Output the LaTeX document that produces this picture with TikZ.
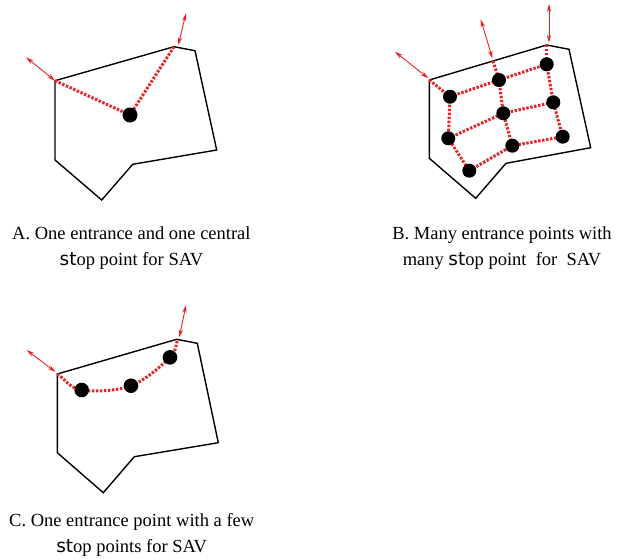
\documentclass[tikz,border=0pt]{standalone}
\usepackage{fontspec}
\setmainfont{Liberation Serif}
\newfontfamily\stfont{DejaVu Sans}
\usetikzlibrary{arrows.meta}
\definecolor{sred}{RGB}{232,35,40}
\newcommand{\stw}{{\stfont st}}
\tikzset{
  region/.style={draw=black, line width=1.4pt, line join=miter},
  stopline/.style={draw=sred, line width=3pt, dash pattern=on 2.4pt off 1.6pt},
  entryarrow/.style={draw=sred, line width=0.9pt, {Stealth[length=8pt,width=4.4pt]}-{Stealth[length=8pt,width=4.4pt]}},
  stopdot/.style={circle, fill=black, inner sep=0pt, minimum size=14.6pt},
  caption/.style={anchor=base, inner sep=0pt, font=\fontsize{18.5pt}{26pt}\selectfont}
}
\begin{document}
\begin{tikzpicture}[x=1pt,y=-1pt]
\useasboundingbox (0,0) rectangle (622,558);

% ---------------- Panel A ----------------
\coordinate (a1) at (55,80.7);
\coordinate (a2) at (174,46.7);
\coordinate (a3) at (195,50.7);
\coordinate (a4) at (216.7,150);
\coordinate (a5) at (132.7,164.3);
\coordinate (a6) at (101.7,200);
\coordinate (a7) at (55,160);
\draw[region] (a1) -- (a2) -- (a3) -- (a4) -- (a5) -- (a6) -- (a7) -- cycle;
\coordinate (ae1) at (26,57.3);
\coordinate (ae2) at (186,13.3);
\coordinate (ap) at (130,115);
\draw[entryarrow] (ae1) -- (a1);
\draw[entryarrow] (ae2) -- (178.3,45);
\draw[stopline] (a1) -- (ap);
\draw[stopline] (a2) -- (ap);
\node[stopdot, minimum size=15pt] (ad) at (ap) {};
\node[caption] (acap1) at (131.4,239) {A. One entrance and one central};
\node[caption] (acap2) at (131.4,265) {\stw op point for SAV};

% ---------------- Panel B ----------------
\coordinate (b1) at (429.3,80);
\coordinate (b2) at (546.7,45);
\coordinate (b3) at (569,49.3);
\coordinate (b4) at (590.7,147.7);
\coordinate (b5) at (506,163.3);
\coordinate (b6) at (475.7,198.3);
\coordinate (b7) at (429.3,158.3);
\draw[region] (b1) -- (b2) -- (b3) -- (b4) -- (b5) -- (b6) -- (b7) -- cycle;
\coordinate (be) at (493,61);
\coordinate (bo1) at (395,51.7);
\coordinate (bo2) at (480.7,19.3);
\coordinate (bo3) at (549,4);
\draw[entryarrow] (bo1) -- (428.3,78.3);
\draw[entryarrow] (bo2) -- (492.5,58.5);
\draw[entryarrow] (bo3) -- (549,42.7);
\coordinate (p11) at (450,96.7);
\coordinate (p12) at (499,80);
\coordinate (p13) at (546.7,64.3);
\coordinate (p21) at (448.3,138.3);
\coordinate (p22) at (503.3,113.3);
\coordinate (p23) at (553.3,102.3);
\coordinate (p31) at (469.3,170.7);
\coordinate (p32) at (512.3,145.7);
\coordinate (p33) at (562.7,136.7);
\draw[stopline] (b1) -- (p11);
\draw[stopline] (be) -- (p12);
\draw[stopline] (b2) -- (p13);
\draw[stopline] (p11) -- (p12) -- (p13);
\draw[stopline] (p21) -- (p22) -- (p23);
\draw[stopline] (p31) -- (p32) -- (p33);
\draw[stopline] (p11) -- (p21) -- (p31);
\draw[stopline] (p12) -- (p22) -- (p32);
\draw[stopline] (p13) -- (p23) -- (p33);
\foreach \p in {11,12,13,21,22,23,31,32,33}
  \node[stopdot, minimum size=14pt] (bd\p) at (p\p) {};
\node[caption] (bcap1) at (502,239) {B. Many entrance points with};
\node[caption] (bcap2) at (502,265) {many \stw op point\ \ for\ \ SAV};

% ---------------- Panel C ----------------
\coordinate (c1) at (57.3,374);
\coordinate (c2) at (176.7,339.3);
\coordinate (c3) at (197.3,343.3);
\coordinate (c4) at (218.3,442.7);
\coordinate (c5) at (134.3,456.7);
\coordinate (c6) at (103.3,492.7);
\coordinate (c7) at (57.3,452.7);
\draw[region] (c1) -- (c2) -- (c3) -- (c4) -- (c5) -- (c6) -- (c7) -- cycle;
\coordinate (co1) at (26.7,350);
\coordinate (co2) at (186,305);
\draw[entryarrow] (co1) -- (55.5,372);
\draw[entryarrow] (co2) -- (179.3,337.3);
\coordinate (q1) at (81.7,390);
\coordinate (q2) at (131,385.7);
\coordinate (q3) at (170,357.3);
\coordinate (q4) at (177.5,339.5);
\draw[stopline] (c1) .. controls +(8.1,5.3) and +(-12.3,-1.95) .. (q1)
  .. controls +(12.3,1.95) and +(-14.7,5.5) .. (q2)
  .. controls +(14.7,-5.5) and +(-7.7,7.7) .. (q3)
  .. controls +(7.7,-7.7) and +(-2.3,5.9) .. (q4);
\node[stopdot] (cd1) at (q1) {};
\node[stopdot] (cd2) at (q2) {};
\node[stopdot] (cd3) at (q3) {};
\node[caption] (ccap1) at (131.7,526.7) {C. One entrance point with a few};
\node[caption] (ccap2) at (131.7,552.5) {\stw op points for SAV};
\end{tikzpicture}
\end{document}
